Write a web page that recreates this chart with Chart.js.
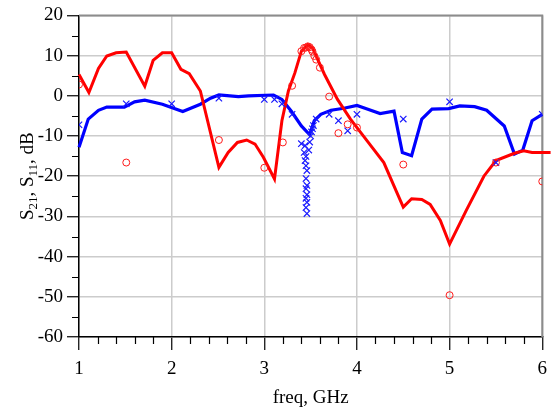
<!DOCTYPE html>
<html>
<head>
<meta charset="utf-8">
<script src="https://cdn.jsdelivr.net/npm/chart.js@4.4.1/dist/chart.umd.min.js"></script>
<style>
  html, body { margin: 0; padding: 0; background: #fff; }
  #wrap { width: 555px; height: 408px; }
</style>
</head>
<body>
<div id="wrap"><canvas id="chart"></canvas></div>
<script>
// simulated S11 (red line), [freq GHz, dB]
const s11Sim = [
  [1.0, 5.3], [1.107, 0.8], [1.21, 6.8], [1.30, 9.9], [1.40, 10.7], [1.51, 10.9],
  [1.71, 2.4], [1.80, 8.8], [1.90, 10.7], [2.0, 10.7], [2.10, 6.6], [2.19, 5.5],
  [2.31, 1.2], [2.51, -17.8], [2.61, -14.1], [2.71, -11.6], [2.81, -11.0], [2.90, -12.0],
  [2.99, -15.3], [3.11, -20.7], [3.19, -6.2], [3.26, 1.2], [3.33, 5.7], [3.40, 11.1],
  [3.47, 12.7], [3.52, 11.9], [3.65, 5.3], [3.79, -0.9], [3.93, -5.8], [4.11, -11.2],
  [4.29, -16.6], [4.43, -24.0], [4.50, -27.7], [4.59, -25.6], [4.70, -25.8], [4.79, -27.0],
  [4.90, -31.0], [5.00, -36.9], [5.18, -28.5], [5.37, -20.0], [5.50, -16.1], [5.70, -14.3],
  [5.80, -13.7], [5.89, -14.1], [6.09, -14.1]
];
// simulated S21 (blue line)
const s21Sim = [
  [1.0, -12.8], [1.10, -5.8], [1.21, -3.6], [1.30, -2.8], [1.49, -2.8], [1.60, -1.5],
  [1.71, -1.1], [1.90, -2.1], [2.12, -3.9], [2.31, -2.1], [2.42, -0.6], [2.51, 0.2],
  [2.72, -0.2], [2.83, 0.0], [3.10, 0.2], [3.19, -0.9], [3.29, -3.8], [3.40, -7.5],
  [3.49, -9.7], [3.54, -6.2], [3.61, -4.6], [3.72, -3.6], [3.86, -3.1], [4.0, -2.4],
  [4.11, -3.3], [4.25, -4.4], [4.40, -3.8], [4.49, -14.1], [4.59, -14.9], [4.70, -5.8],
  [4.81, -3.3], [4.99, -3.2], [5.11, -2.5], [5.27, -2.7], [5.40, -3.6], [5.59, -7.5],
  [5.70, -14.5], [5.79, -13.5], [5.89, -6.2], [6.0, -4.6], [6.09, -4.2]
];
// measured S11 (red circles)
const s11Meas = [
  [1.0, 2.8], [1.51, -16.6], [2.51, -11.0], [3.0, -17.9], [3.2, -11.6], [3.30, 2.5],
  [3.40, 11.1], [3.43, 11.9], [3.45, 12.0], [3.47, 12.3], [3.49, 12.1], [3.51, 11.5],
  [3.52, 11.0], [3.54, 9.9], [3.56, 9.0], [3.60, 7.0], [3.70, -0.2], [3.80, -9.3],
  [3.90, -7.1], [4.0, -7.9], [4.50, -17.1], [5.0, -49.6], [5.50, -16.6], [6.0, -21.3]
];
// measured S21 (blue crosses)
const s21Meas = [
  [1.0, -7.2], [1.51, -2.0], [2.0, -2.0], [2.51, -0.6], [3.0, -0.9], [3.11, -0.9],
  [3.19, -2.0], [3.30, -4.6], [3.40, -11.9], [3.44, -12.4], [3.43, -14.1], [3.45, -15.1],
  [3.44, -16.1], [3.45, -17.4], [3.46, -18.6], [3.45, -20.6], [3.46, -22.3], [3.45, -23.1],
  [3.46, -24.6], [3.45, -25.5], [3.46, -26.5], [3.45, -27.8], [3.46, -29.3], [3.48, -13.5],
  [3.49, -11.5], [3.50, -10.0], [3.51, -9.0], [3.52, -8.2], [3.53, -7.4], [3.56, -5.8],
  [3.70, -4.6], [3.80, -6.2], [3.90, -8.7], [4.0, -4.6], [4.50, -5.8], [5.0, -1.5],
  [5.5, -16.6], [6.0, -4.6]
];

const FONT = 'Liberation Serif';
const pts = arr => arr.map(([x, y]) => ({ x, y }));

// top/right frame in gray
const frame = {
  id: 'frame',
  beforeDatasetsDraw(chart) {
    const { ctx, chartArea: a } = chart;
    ctx.save();
    ctx.strokeStyle = '#8c8c8c';
    ctx.lineWidth = 2;
    ctx.beginPath();
    ctx.moveTo(a.left, a.top);
    ctx.lineTo(a.right, a.top);
    ctx.lineTo(a.right, a.bottom);
    ctx.stroke();
    ctx.restore();
  }
};

// short minor ticks (0.2 GHz, 5 dB)
const minorTicks = {
  id: 'minorTicks',
  afterDraw(chart) {
    const { ctx, chartArea: a, scales: { x, y } } = chart;
    ctx.save();
    ctx.strokeStyle = '#000';
    ctx.lineWidth = 1.2;
    ctx.beginPath();
    for (let i = 5; i < 30; i++) {
      if (i % 5 === 0) continue;
      const px = Math.round(x.getPixelForValue(i / 5)) + 0.5;
      ctx.moveTo(px, a.bottom);
      ctx.lineTo(px, a.bottom + 7);
    }
    for (let v = -55; v < 20; v += 10) {
      const py = Math.round(y.getPixelForValue(v)) + 0.5;
      ctx.moveTo(a.left, py);
      ctx.lineTo(a.left - 7, py);
    }
    ctx.stroke();
    ctx.restore();
  }
};

// y title with subscripts
const yTitle = {
  id: 'yTitle',
  afterDraw(chart) {
    const { ctx, chartArea: a } = chart;
    const parts = [['S', 0], ['21', 1], [', S', 0], ['11', 1], [', dB', 0]];
    const big = '19px "' + FONT + '"', small = '13px "' + FONT + '"';
    ctx.save();
    let w = 0;
    parts.forEach(([t, s]) => { ctx.font = s ? small : big; w += ctx.measureText(t).width; });
    ctx.translate(33, (a.top + a.bottom) / 2);
    ctx.rotate(-Math.PI / 2);
    ctx.fillStyle = '#000';
    ctx.textBaseline = 'alphabetic';
    let cx = -w / 2;
    parts.forEach(([t, s]) => {
      ctx.font = s ? small : big;
      ctx.fillText(t, cx, s ? 4 : 0);
      cx += ctx.measureText(t).width;
    });
    ctx.restore();
  }
};

new Chart(document.getElementById('chart'), {
  type: 'scatter',
  data: {
    datasets: [
      {
        label: 'S11 meas', data: pts(s11Meas), order: 0,
        pointStyle: 'circle', pointRadius: 3.5, borderWidth: 1,
        borderColor: '#ff1a1a', backgroundColor: 'rgba(0,0,0,0)', showLine: false
      },
      {
        label: 'S21 meas', data: pts(s21Meas), order: 1,
        pointStyle: 'crossRot', pointRadius: 4.5, borderWidth: 1.2,
        borderColor: '#1a1aff', backgroundColor: '#1a1aff', showLine: false
      },
      {
        label: 'S11', data: pts(s11Sim), order: 2, showLine: true, clip: false,
        borderColor: '#ff0000', borderWidth: 3, pointRadius: 0, tension: 0
      },
      {
        label: 'S21', data: pts(s21Sim), order: 3, showLine: true, clip: false,
        borderColor: '#0000ff', borderWidth: 3.2, pointRadius: 0, tension: 0
      }
    ]
  },
  options: {
    responsive: true, maintainAspectRatio: false, animation: false,
    layout: { padding: { left: 0, top: 14, right: 8.3, bottom: 0 } },
    plugins: { legend: { display: false }, tooltip: { enabled: false } },
    scales: {
      x: {
        type: 'linear', min: 1, max: 6,
        afterFit: s => { s.height = 71; },
        ticks: { stepSize: 1, padding: 8, color: '#000', font: { family: FONT, size: 19 } },
        grid: { color: '#cccccc', lineWidth: 1.5, tickColor: '#000', tickLength: 13, tickWidth: 1.2 },
        border: { color: '#000', width: 1.5 },
        title: { display: true, text: 'freq, GHz', color: '#000', font: { family: FONT, size: 19, lineHeight: 1.0 }, padding: { top: 0, bottom: 0 } }
      },
      y: {
        min: -60, max: 20,
        afterFit: s => { s.width = 79; },
        ticks: { stepSize: 10, padding: 4, color: '#000', font: { family: FONT, size: 19 } },
        grid: { color: '#cccccc', lineWidth: 1.5, tickColor: '#000', tickLength: 12, tickWidth: 1.2 },
        border: { color: '#000', width: 1.5 }
      }
    }
  },
  plugins: [frame, minorTicks, yTitle]
});
</script>
</body>
</html>
